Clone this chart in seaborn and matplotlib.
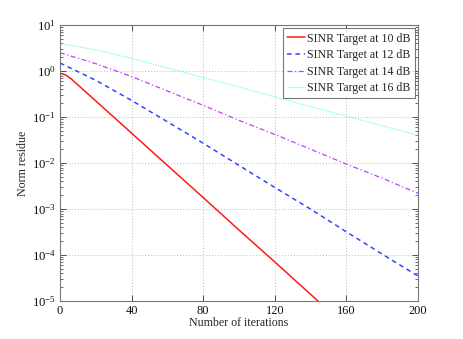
import numpy as np
import pandas as pd
import matplotlib
matplotlib.use("Agg")
import matplotlib.pyplot as plt
import seaborn as sns

# values (norm residue per iteration)
iters_10 = [0, 3, 6, 10, 20, 40, 60, 80, 100, 120, 140, 150]
res_10 = [0.90, 0.83, 0.69, 0.50, 0.224, 0.0447, 8.9e-3, 1.78e-3,
          3.5e-4, 7.1e-5, 1.4e-5, 6.3e-6]

iters = [0, 20, 40, 60, 80, 100, 120, 140, 160, 180, 200]
res_12 = [1.5, 0.63, 0.23, 0.079, 0.027, 8.9e-3, 2.95e-3, 1.0e-3, 3.2e-4, 1.05e-4, 3.5e-5]
res_14 = [2.5, 1.45, 0.76, 0.37, 0.18, 0.085, 0.042, 0.020, 9.5e-3, 4.7e-3, 2.2e-3]
res_16 = [4.0, 2.9, 1.9, 1.17, 0.72, 0.45, 0.275, 0.17, 0.105, 0.065, 0.04]

labels = ["SINR Target at 10 dB", "SINR Target at 12 dB",
          "SINR Target at 14 dB", "SINR Target at 16 dB"]
x_ticks = [0, 40, 80, 120, 160, 200]

sns.set_style("ticks")
plt.rcParams["font.family"] = ["Liberation Serif", "DejaVu Serif"]
plt.rcParams["mathtext.fontset"] = "stix"
plt.rcParams["xtick.direction"] = "in"
plt.rcParams["ytick.direction"] = "in"

fs = 8.6
fig = plt.figure(figsize=(4.63, 3.39), dpi=100)
ax = fig.add_axes([0.1296, 0.112, 0.773, 0.814])

series = [
    (iters_10, res_10, "#ff1a1a", "-", 1.1),
    (iters, res_12, "#3344ff", (0, (3, 2.5)), 1.1),
    (iters, res_14, "#c040ff", (0, (4, 2, 1, 2)), 0.9),
    (iters, res_16, "#70ffd8", (0, (1, 1)), 0.9),
]
for (xs, ys, c, ls, lw), lab in zip(series, labels):
    df = pd.DataFrame({"iteration": xs, "residue": ys})
    sns.lineplot(data=df, x="iteration", y="residue", ax=ax, color=c,
                 linestyle=ls, linewidth=lw, label=lab)

ax.set_yscale("log")
ax.set_xlim(0, 200)
ax.set_ylim(1e-5, 10)
ax.set_xticks(x_ticks)
ax.set_yticks([10.0 ** k for k in range(-5, 2)])
ax.tick_params(which="both", top=True, right=True, colors="#333333",
               labelcolor="#111111")
ax.tick_params(axis="x", labelsize=fs + 0.3, pad=3)
ax.tick_params(axis="y", labelsize=fs + 0.6, pad=3)
ax.tick_params(which="major", length=4, width=0.6)
ax.tick_params(which="minor", length=2, width=0.5)
ax.grid(True, which="major", linestyle=(0, (1, 2)), color="#bbbbbb", linewidth=0.7)
for sp in ax.spines.values():
    sp.set_color("#777777")
    sp.set_linewidth(0.8)

ax.set_xlabel("Number of iterations", fontsize=fs, labelpad=0)
ax.set_ylabel("Norm residue", fontsize=fs, labelpad=2)

leg = ax.legend(loc="upper right", fontsize=fs, frameon=True, fancybox=False,
                handlelength=1.5, handletextpad=0.15, borderpad=0.35,
                labelspacing=0.38, borderaxespad=0.28)
leg.get_frame().set_edgecolor("#555555")
leg.get_frame().set_linewidth(0.8)

fig.savefig("out.png", dpi=100)
